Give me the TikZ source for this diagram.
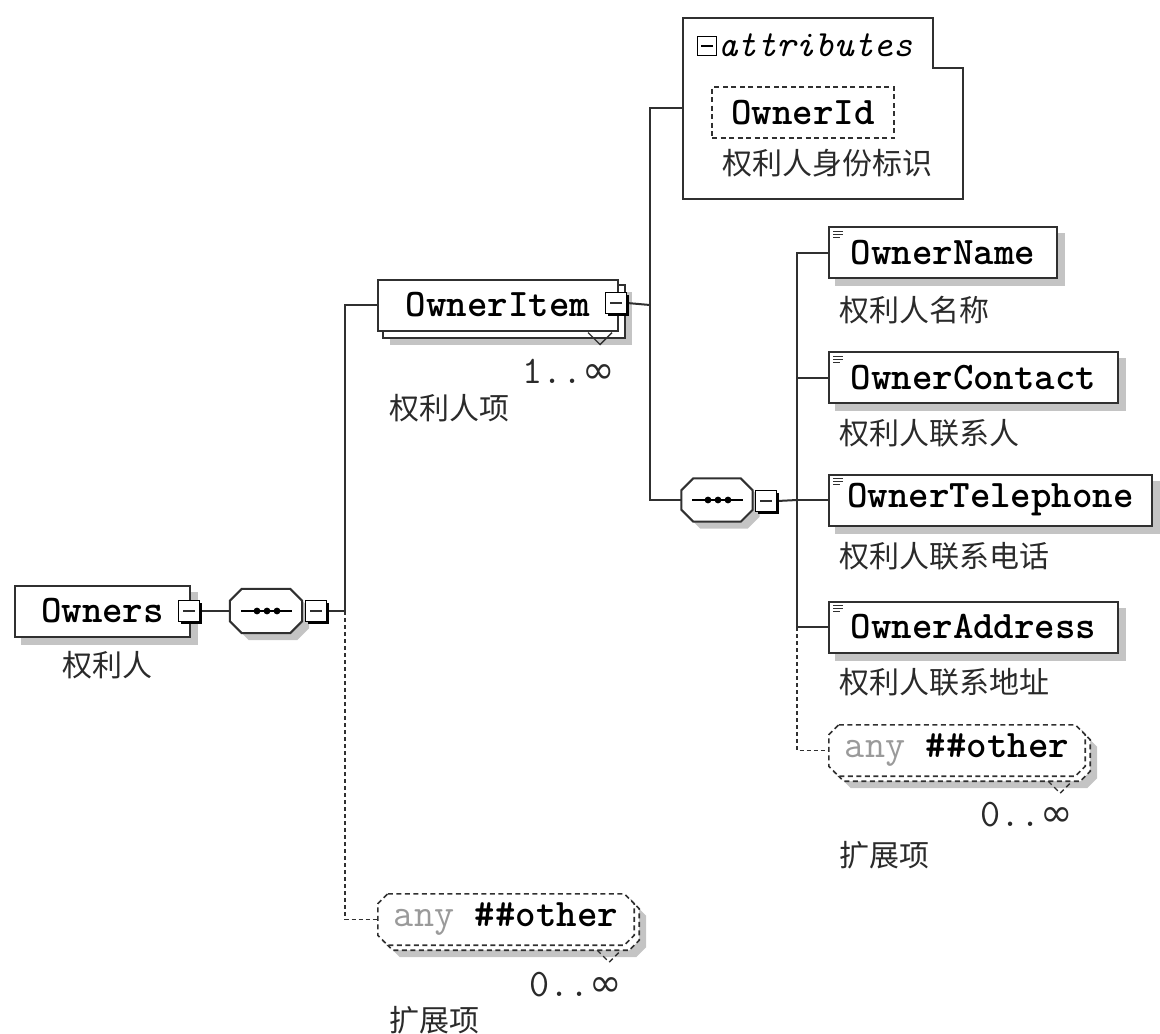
\documentclass[tikz,border=0pt]{standalone}
\usepackage{fontspec}
\newfontfamily\cjkf{Noto Sans CJK SC}
\newfontfamily\symf{DejaVu Sans}
\usetikzlibrary{calc,shadows}
\pgfdeclarelayer{shadowl}
\pgfdeclarelayer{backl}
\pgfsetlayers{shadowl,backl,main}
\definecolor{boxc}{HTML}{303030}
\definecolor{shadc}{HTML}{C4C4C4}
\definecolor{labc}{HTML}{2A2A2A}
\definecolor{anyc}{HTML}{9A9A9A}
\newcommand\octa[4][]{%
  \path[#1] ($(#2.north west)+(#3+#4,#4)$) -- ($(#2.north east)+(-#3+#4,#4)$)
   -- ($(#2.north east)+(#4,#3+#4)$) -- ($(#2.south east)+(#4,-#3+#4)$)
   -- ($(#2.south east)+(-#3+#4,#4)$) -- ($(#2.south west)+(#3+#4,#4)$)
   -- ($(#2.south west)+(#4,-#3+#4)$) -- ($(#2.north west)+(#4,#3+#4)$) -- cycle;}
\newcommand\rshadow[2]{\fill[shadc] ($(#1.north west)+(#2,#2)$) rectangle ($(#1.south east)+(#2,#2)$);}
\newcommand\elicon[1]{\draw[boxc,line width=0.9pt] ($(#1.north west)+(5,5)$) -- ++(10,0) ($(#1.north west)+(5,8)$) -- ++(10,0) ($(#1.north west)+(5,11)$) -- ++(7,0);}
\newcommand\seqdots[1]{\draw[black,line width=1.4pt] ($(#1.center)+(-25,0)$) -- ($(#1.center)+(26,0)$);
  \fill[black] ($(#1.center)+(-9,0)$) circle (3.4pt) ($(#1.center)+(1,0)$) circle (3.4pt) ($(#1.center)+(11,0)$) circle (3.4pt);}
\begin{document}
\begin{tikzpicture}[x=1pt,y=-1pt,
  every node/.style={inner sep=0pt},
  elbox/.style={draw=boxc, line width=2pt, fill=white, minimum height=51pt, font=\ttfamily\bfseries\fontsize{39}{44}\selectfont, text=black},
  minusbox/.style={draw=black, line width=1.5pt, fill=white, minimum size=21pt,
    drop shadow={shadow xshift=2.5pt,shadow yshift=-2.5pt,fill=black,opacity=1},
    path picture={\draw[boxc, line width=1.3pt] ([xshift=-6pt]path picture bounding box.center) -- ([xshift=6pt]path picture bounding box.center);}},
  conn/.style={draw=boxc, line width=2pt},
  dconn/.style={conn, line width=1.8pt, dash pattern=on 4pt off 3pt},
  lab/.style={font=\cjkf\fontsize{30}{34}\selectfont, text=labc, anchor=west},
  occ/.style={font=\ttfamily\fontsize{39}{44}\selectfont, text=labc},
  octst/.style={draw=boxc, line width=2pt, fill=white},
  dashst/.style={dash pattern=on 5pt off 3.5pt},
  anytext/.style={minimum width=256pt, minimum height=51pt, font=\ttfamily\bfseries\fontsize{39}{44}\selectfont}]
\useasboundingbox (0,0) rectangle (1160,1034);

% ---------- nodes ----------
\node[elbox, minimum width=175pt] (owners) at (102.5,611) {Owners};
\node[minusbox] (om) at (189,611) {};
\node[minimum width=72pt, minimum height=44pt] (seq1) at (266,611) {};
\node[minusbox] (s1m) at (316,611) {};
\coordinate (j1) at (345,611);

\node[elbox, minimum width=240pt] (item) at (498,305) {OwnerItem};
\node[minusbox] (im) at (616,303) {};
\coordinate (j2) at (650,305);

\coordinate (attrL) at (683,108);
\node[draw=black, line width=1.8pt, fill=white, minimum size=19pt,
  path picture={\draw[black, line width=1.4pt] ([xshift=-6pt]path picture bounding box.center) -- ([xshift=6pt]path picture bounding box.center);}] (attrm) at (707,46) {};
\node[anchor=west, font=\ttfamily\itshape\fontsize{37}{42}\selectfont] (attrt) at (718,45) {attributes};
\node[elbox, dashst, minimum width=182pt] (ownerid) at (803,112.5) {OwnerId};

\node[minimum width=71pt, minimum height=43pt] (seq2) at (717,500) {};
\node[minusbox] (s2m) at (766,501) {};
\coordinate (j3) at (797,500);

\node[elbox, minimum width=228pt] (oname) at (943,252.5) {OwnerName};
\node[elbox, minimum width=289pt] (ocontact) at (973.5,377.5) {OwnerContact};
\node[elbox, minimum width=323pt] (otel) at (990.5,500) {OwnerTelephone};
\node[elbox, minimum width=289pt] (oaddr) at (973.5,627) {OwnerAddress};
\node[anytext] (any2) at (957,750.5) {\textcolor{anyc}{\mdseries any} \#\#other};
\node[anytext] (any1) at (506,919.5) {\textcolor{anyc}{\mdseries any} \#\#other};

\elicon{oname}\elicon{ocontact}\elicon{otel}\elicon{oaddr}
\seqdots{seq1}\seqdots{seq2}

% ---------- labels ----------
\node[lab] (l1) at (62,665) {权利人};
\node[lab] (l2) at (389,408) {权利人项};
\node[occ] (m1) at (569,371) {1..{\symf ∞}};
\node[lab] (l3) at (722,163) {权利人身份标识};
\node[lab] (l4) at (839,310) {权利人名称};
\node[lab] (l5) at (839,433) {权利人联系人};
\node[lab] (l6) at (839,556) {权利人联系电话};
\node[lab] (l7) at (839,682) {权利人联系地址};
\node[occ] (m2) at (1027,815) {0..{\symf ∞}};
\node[lab] (l8) at (839,855) {扩展项};
\node[occ] (m3) at (576,985) {0..{\symf ∞}};
\node[lab] (l9) at (389,1020) {扩展项};

% ---------- shadows ----------
\begin{pgfonlayer}{shadowl}
\rshadow{owners}{7}
\octa[fill=shadc]{seq1}{12}{7}
\octa[fill=shadc]{seq2}{12}{7}
\rshadow{item}{13}
\rshadow{ownerid}{7}
\rshadow{oname}{7}\rshadow{ocontact}{7}\rshadow{otel}{7}\rshadow{oaddr}{7}
\octa[fill=shadc]{any2}{10}{12}
\octa[fill=shadc]{any1}{10}{12}
\end{pgfonlayer}

% ---------- backgrounds and connectors ----------
\begin{pgfonlayer}{backl}
\draw[conn] (om.east) -- (seq1.west);
\draw[conn] (s1m.east) -- (j1) |- (item.west);
\draw[dconn] (j1) |- (any1.west);
\draw[conn] (im.east) -- (j2);
\draw[conn] (attrL) -| (j2) |- (seq2.west);
\draw[conn] (s2m.east) -- (j3);
\draw[conn] (j3) |- (oname.west);
\draw[conn] (j3) |- (ocontact.west);
\draw[conn] (j3) -- (otel.west);
\draw[conn] (j3) |- (oaddr.west);
\draw[dconn] (j3 |- oaddr.west) |- (any2.west);

\octa[octst]{seq1}{12}{0}
\octa[octst]{seq2}{12}{0}

\draw[boxc, line width=2pt, fill=white] ($(item.north west)+(6,6)$) rectangle ($(item.south east)+(6,6)$);
\draw[boxc, line width=1.4pt] ($(item.south east)+(-31,1)$) -- ++(12,12) -- ++(12,-12);

\draw[boxc, line width=1.8pt, fill=white] (683,18) -- (933,18) -- (933,68) -- (963,68) -- (963,199) -- (683,199) -- cycle;

\octa[draw=boxc, line width=1.6pt, dashst, fill=white]{any2}{10}{5}
\octa[draw=boxc, line width=1.6pt, dashst, fill=white]{any2}{10}{0}
\draw[boxc, line width=1.4pt, dashst] ($(any2.south east)+(-37,5)$) -- ++(12,12) -- ++(12,-12);
\octa[draw=boxc, line width=1.6pt, dashst, fill=white]{any1}{10}{5}
\octa[draw=boxc, line width=1.6pt, dashst, fill=white]{any1}{10}{0}
\draw[boxc, line width=1.4pt, dashst] ($(any1.south east)+(-37,5)$) -- ++(12,12) -- ++(12,-12);
\end{pgfonlayer}
\end{tikzpicture}
\end{document}
